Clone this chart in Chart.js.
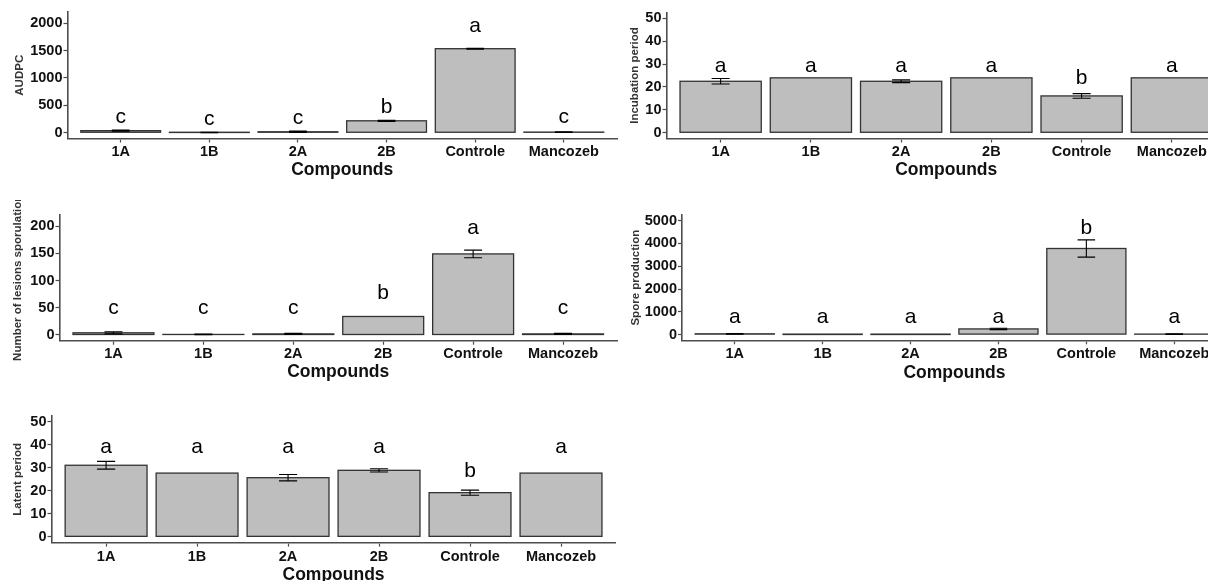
<!DOCTYPE html>
<html>
<head>
<meta charset="utf-8">
<script src="https://cdn.jsdelivr.net/npm/chart.js@4.4.1/dist/chart.umd.min.js"></script>
<style>
  html, body { margin: 0; padding: 0; background: #fff; width: 1208px; height: 581px; overflow: hidden; }
  .panel { position: absolute; }
</style>
</head>
<body>
<div class="panel" id="p1"><canvas id="c1"></canvas></div>
<div class="panel" id="p2"><canvas id="c2"></canvas></div>
<div class="panel" id="p3"><canvas id="c3"></canvas></div>
<div class="panel" id="p4"><canvas id="c4"></canvas></div>
<div class="panel" id="p5"><canvas id="c5"></canvas></div>
<script>
// categorias comunes
const compounds = ['1A', '1B', '2A', '2B', 'Controle', 'Mancozeb'];

// AUDPC
const audpcMean = [38, 5, 18, 218, 1535, 12];
const audpcErr = [10, 3, 12, 10, 8, 5];
const audpcLetters = ['c', 'c', 'c', 'b', 'a', 'c'];
const audpcLetterY = [290, 250, 265, 462, 1940, 285];
const audpcTicks = [0, 500, 1000, 1500, 2000];

// Incubation period
const incubMean = [22.5, 24, 22.5, 24, 16.1, 24];
const incubErr = [1.2, 0, 0.6, 0, 1.0, 0];
const incubLetters = ['a', 'a', 'a', 'a', 'b', 'a'];
const incubLetterY = [29.3, 29.3, 29.3, 29.3, 24, 29.3];
const incubTicks = [0, 10, 20, 30, 40, 50];

// Number of lesions sporulation
const lesionMean = [4, 1, 2, 34, 149, 2];
const lesionErr = [2, 0.5, 1, 0, 7, 1];
const lesionLetters = ['c', 'c', 'c', 'b', 'a', 'c'];
const lesionLetterY = [49.5, 49.5, 49.5, 77.6, 196, 49.5];
const lesionTicks = [0, 50, 100, 150, 200];

// Spore production
const sporeMean = [35, 5, 5, 250, 3780, 20];
const sporeErr = [15, 0, 0, 30, 380, 10];
const sporeLetters = ['a', 'a', 'a', 'a', 'b', 'a'];
const sporeLetterY = [774, 774, 774, 774, 4677, 774];
const sporeTicks = [0, 1000, 2000, 3000, 4000, 5000];

// Latent period
const latentMean = [31.1, 27.7, 25.7, 28.9, 19.2, 27.7];
const latentErr = [1.7, 0, 1.4, 0.7, 1.1, 0];
const latentLetters = ['a', 'a', 'a', 'a', 'b', 'a'];
const latentLetterY = [39.1, 39.1, 39.1, 39.1, 28.7, 39.1];
const latentTicks = [0, 10, 20, 30, 40, 50];

// paneles: caja del div y area de trazado en coordenadas de pagina
const panels = [
  { id: 'c1', box: [0, 0, 620, 190], area: [67.5, 12, 617, 138.5], labelY: 152, titleY: 170, yTitleX: 20,
    yTitle: 'AUDPC', mean: audpcMean, err: audpcErr, letters: audpcLetters, letterY: audpcLetterY,
    ticks: audpcTicks, min: -105, max: 2205 },
  { id: 'c2', box: [610, 0, 620, 190], area: [666.5, 12.6, 1226, 138.5], labelY: 152, titleY: 170, yTitleX: 635,
    yTitle: 'Incubation period', mean: incubMean, err: incubErr, letters: incubLetters, letterY: incubLetterY,
    ticks: incubTicks, min: -2.5, max: 52.5 },
  { id: 'c3', box: [0, 200, 620, 192], area: [59.5, 215, 617, 340.7], labelY: 354, titleY: 372, yTitleX: 18,
    yTitle: 'Number of lesions sporulation', mean: lesionMean, err: lesionErr, letters: lesionLetters, letterY: lesionLetterY,
    ticks: lesionTicks, min: -10.5, max: 220.5 },
  { id: 'c4', box: [610, 195, 620, 198], area: [682, 215, 1227, 340.3], labelY: 354, titleY: 373, yTitleX: 636,
    yTitle: 'Spore production', mean: sporeMean, err: sporeErr, letters: sporeLetters, letterY: sporeLetterY,
    ticks: sporeTicks, min: -250, max: 5250 },
  { id: 'c5', box: [0, 395, 620, 200], area: [51.5, 416, 615.6, 542.6], labelY: 556.5, titleY: 575, yTitleX: 18,
    yTitle: 'Latent period', mean: latentMean, err: latentErr, letters: latentLetters, letterY: latentLetterY,
    ticks: latentTicks, min: -2.5, max: 52.5 }
];

const axisColor = '#4d4d4d';
const tickSize = 14.5;
const tickFont = { family: '"Liberation Sans", Arial', size: tickSize, weight: 'bold' };

// contorno de barras (como ggplot, tambien en barras muy bajas), barras de error y letras
function makeExtras(p) {
  return {
    id: 'extras',
    afterDatasetsDraw(chart) {
      const { ctx, scales: { x, y } } = chart;
      ctx.save();
      ctx.strokeStyle = '#333';
      ctx.lineWidth = 1.3;
      chart.getDatasetMeta(0).data.forEach(bar => {
        const { x: bx, y: by, base, width } = bar.getProps(['x', 'y', 'base', 'width'], true);
        ctx.strokeRect(bx - width / 2, Math.min(by, base), width, Math.abs(base - by));
      });

      ctx.strokeStyle = '#000';
      ctx.lineWidth = 1.1;
      p.mean.forEach((m, i) => {
        const e = p.err[i];
        if (!e) return;
        const cx = x.getPixelForValue(i);
        const hw = (x.getPixelForValue(i + 0.1) - x.getPixelForValue(i - 0.1)) / 2;
        const y1 = y.getPixelForValue(m + e);
        const y2 = y.getPixelForValue(m - e);
        ctx.beginPath();
        ctx.moveTo(cx, y1); ctx.lineTo(cx, y2);
        ctx.moveTo(cx - hw, y1); ctx.lineTo(cx + hw, y1);
        ctx.moveTo(cx - hw, y2); ctx.lineTo(cx + hw, y2);
        ctx.stroke();
      });

      ctx.fillStyle = '#000';
      ctx.font = '21px "Liberation Sans", Arial';
      ctx.textAlign = 'center';
      ctx.textBaseline = 'middle';
      p.letters.forEach((l, i) => {
        ctx.fillText(l, x.getPixelForValue(i), y.getPixelForValue(p.letterY[i]));
      });
      ctx.restore();
    }
  };
}

panels.forEach(p => {
  const [bl, bt, bw, bh] = p.box;
  const [al, at, ar, ab] = p.area;
  const div = document.getElementById(p.id).parentNode;
  div.style.left = bl + 'px';
  div.style.top = bt + 'px';
  div.style.width = bw + 'px';
  div.style.height = bh + 'px';

  const yTitleSize = 11.5;
  const xTitleSize = 17.5;

  new Chart(document.getElementById(p.id), {
    type: 'bar',
    data: {
      datasets: [{
        data: compounds.map((c, i) => ({ x: i, y: p.mean[i] })),
        backgroundColor: '#bebebe',
        borderWidth: 0,
        barPercentage: 0.9,
        categoryPercentage: 1
      }]
    },
    options: {
      responsive: true,
      maintainAspectRatio: false,
      animation: false,
      layout: { padding: { left: 0, top: at - bt, right: bl + bw - ar, bottom: 0 } },
      plugins: { legend: { display: false }, tooltip: { enabled: false } },
      scales: {
        x: {
          type: 'linear',
          offset: false,
          min: -0.6,
          max: 5.6,
          afterBuildTicks: s => { s.ticks = compounds.map((c, i) => ({ value: i })); },
          afterFit: s => { s.height = bt + bh - ab; },
          ticks: {
            callback: v => compounds[v],
            font: tickFont,
            color: '#111',
            padding: p.labelY - ab - 4 - tickSize * 1.2 / 2,
            maxRotation: 0,
            autoSkip: false
          },
          grid: { offset: false, drawOnChartArea: false, drawTicks: true, tickLength: 4, color: axisColor, tickWidth: 1.2 },
          border: { display: true, color: axisColor, width: 1.6 },
          title: {
            display: true,
            text: 'Compounds',
            font: { family: '"Liberation Sans", Arial', size: xTitleSize, weight: 'bold' },
            color: '#111',
            padding: { top: 0, bottom: bt + bh - p.titleY - xTitleSize * 1.2 / 2 }
          }
        },
        y: {
          min: p.min,
          max: p.max,
          afterBuildTicks: s => { s.ticks = p.ticks.map(v => ({ value: v })); },
          afterFit: s => { s.width = al - bl; },
          ticks: { font: tickFont, color: '#111', padding: 1, callback: v => String(v) },
          grid: { drawOnChartArea: false, drawTicks: true, tickLength: 4, color: axisColor, tickWidth: 1.2 },
          border: { display: true, color: axisColor, width: 1.6 },
          title: {
            display: true,
            text: p.yTitle,
            font: { family: '"Liberation Sans", Arial', size: yTitleSize, weight: 'bold' },
            color: '#333',
            padding: { top: p.yTitleX - bl - yTitleSize * 1.2 / 2, bottom: 0 }
          }
        }
      }
    },
    plugins: [makeExtras(p)]
  });
});
</script>
</body>
</html>
